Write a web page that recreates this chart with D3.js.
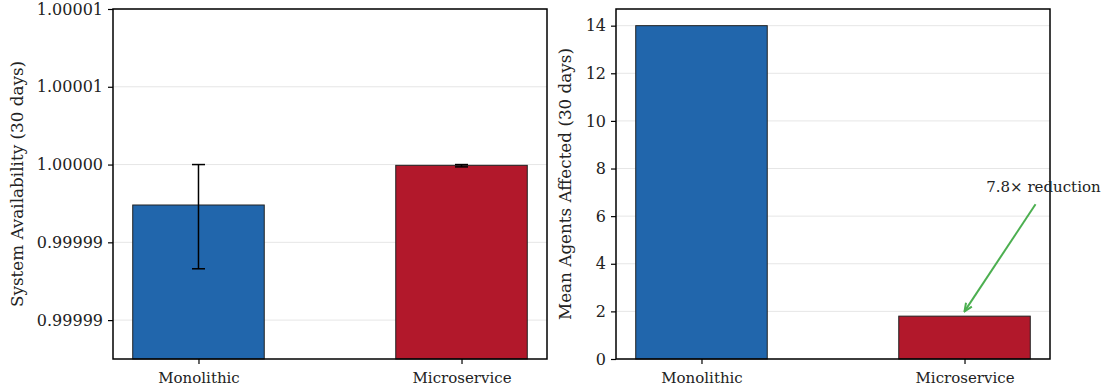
<!DOCTYPE html>
<html>
<head>
<meta charset="utf-8">
<script src="https://cdn.jsdelivr.net/npm/d3@7"></script>
<style>
  html, body { margin: 0; padding: 0; background: #fff; }
  svg text { font-family: "DejaVu Serif", serif; fill: #222; }
</style>
</head>
<body>
<svg id="chart" width="1104" height="392"></svg>
<script>
// Architectures compared
const categories = ["Monolithic", "Microservice"];
const barColors = ["#2166ac", "#b2182b"];

// Left panel: 30-day system availability with asymmetric error bars
const availability = [0.9999974, 0.99999995];
const availErrLow = [0.0000041, 0.0000001];
const availErrHigh = [0.0000026, 0.00000005];
const availTicks = [0.99999, 0.999995, 1.0, 1.000005, 1.00001];
const availDomain = [0.9999875, 1.00001];

// Right panel: mean number of agents affected per failure
const agentsAffected = [14.0, 1.8];
const agentTicks = [0, 2, 4, 6, 8, 10, 12, 14];
const agentDomain = [0, 14.7];

// Annotation on the right panel
const annotationText = "7.8\u00d7 reduction";
const annotationTextPos = [1.3, 7.0];
const annotationArrowFrom = [1.27, 6.5];
const annotationArrowTo = [1.0, 2.0];

const svg = d3.select("#chart");
const plotTop = 9, plotBottom = 359;

svg.append("defs").append("marker")
  .attr("id", "arrowhead")
  .attr("viewBox", "0 0 10 10")
  .attr("refX", 9).attr("refY", 5)
  .attr("markerWidth", 10).attr("markerHeight", 10)
  .attr("markerUnits", "userSpaceOnUse")
  .attr("orient", "auto")
  .append("path")
  .attr("d", "M1,1.5 L9,5 L1,8.5")
  .attr("fill", "none")
  .attr("stroke", "#4caf50")
  .attr("stroke-width", 2);

function panel(opts) {
  const g = svg.append("g");
  const x = d3.scaleLinear().domain([-0.325, 1.325]).range([opts.left, opts.right]);
  const y = d3.scaleLinear().domain(opts.domain).range([plotBottom, plotTop]);
  const barHalf = 0.25;

  // horizontal grid
  g.selectAll("line.grid").data(opts.ticks).join("line")
    .attr("x1", opts.left).attr("x2", opts.right)
    .attr("y1", d => y(d)).attr("y2", d => y(d))
    .attr("stroke", "#e6e6e6").attr("stroke-width", 1);

  // bars
  g.selectAll("rect.bar").data(opts.values).join("rect")
    .attr("x", (d, i) => x(i - barHalf))
    .attr("width", (d, i) => x(i + barHalf) - x(i - barHalf))
    .attr("y", d => y(d))
    .attr("height", d => plotBottom - y(d))
    .attr("fill", (d, i) => barColors[i])
    .attr("stroke", "#222").attr("stroke-width", 1);

  // error bars
  if (opts.errLow) {
    opts.values.forEach((v, i) => {
      const cx = x(i);
      const yLo = y(v - opts.errLow[i]);
      const yHi = y(v + opts.errHigh[i]);
      g.append("line").attr("x1", cx).attr("x2", cx).attr("y1", yLo).attr("y2", yHi)
        .attr("stroke", "#000").attr("stroke-width", 1.5);
      [yLo, yHi].forEach(yy => {
        g.append("line").attr("x1", cx - 6.5).attr("x2", cx + 6.5).attr("y1", yy).attr("y2", yy)
          .attr("stroke", "#000").attr("stroke-width", 1.5);
      });
    });
  }

  // y axis
  const yAxis = d3.axisLeft(y).tickValues(opts.ticks).tickFormat(opts.format)
    .tickSize(5).tickPadding(5);
  const ya = g.append("g").attr("transform", `translate(${opts.left},0)`).call(yAxis);
  ya.select(".domain").remove();
  ya.selectAll(".tick line").attr("stroke", "#000").attr("stroke-width", 1.2);
  ya.selectAll(".tick text").attr("font-size", 16).attr("font-family", "DejaVu Serif").attr("fill", "#222");

  // x axis
  const xAxis = d3.axisBottom(x).tickValues([0, 1]).tickFormat(i => categories[i])
    .tickSize(5).tickPadding(8);
  const xa = g.append("g").attr("transform", `translate(0,${plotBottom})`).call(xAxis);
  xa.select(".domain").remove();
  xa.selectAll(".tick line").attr("stroke", "#000").attr("stroke-width", 1.2);
  xa.selectAll(".tick text").attr("font-size", 15).attr("font-family", "DejaVu Serif").attr("fill", "#222");

  // frame
  g.append("rect")
    .attr("x", opts.left).attr("y", plotTop)
    .attr("width", opts.right - opts.left).attr("height", plotBottom - plotTop)
    .attr("fill", "none").attr("stroke", "#000").attr("stroke-width", 1.5);

  // y label
  g.append("text")
    .attr("transform", `translate(${opts.labelX},${(plotTop + plotBottom) / 2}) rotate(-90)`)
    .attr("text-anchor", "middle")
    .attr("font-size", 16.8)
    .text(opts.label);

  return { g, x, y };
}

panel({
  left: 113, right: 547,
  domain: availDomain, ticks: availTicks,
  values: availability, errLow: availErrLow, errHigh: availErrHigh,
  format: d3.format(".5f"),
  label: "System Availability (30 days)", labelX: 23
});

const right = panel({
  left: 616, right: 1050,
  domain: agentDomain, ticks: agentTicks,
  values: agentsAffected,
  format: d3.format("d"),
  label: "Mean Agents Affected (30 days)", labelX: 571
});

right.g.append("line")
  .attr("x1", right.x(annotationArrowFrom[0])).attr("y1", right.y(annotationArrowFrom[1]))
  .attr("x2", right.x(annotationArrowTo[0])).attr("y2", right.y(annotationArrowTo[1]))
  .attr("stroke", "#4caf50").attr("stroke-width", 2)
  .attr("marker-end", "url(#arrowhead)");

right.g.append("text")
  .attr("x", right.x(annotationTextPos[0]))
  .attr("y", right.y(annotationTextPos[1]))
  .attr("text-anchor", "middle")
  .attr("font-size", 15)
  .text(annotationText);
</script>
</body>
</html>
